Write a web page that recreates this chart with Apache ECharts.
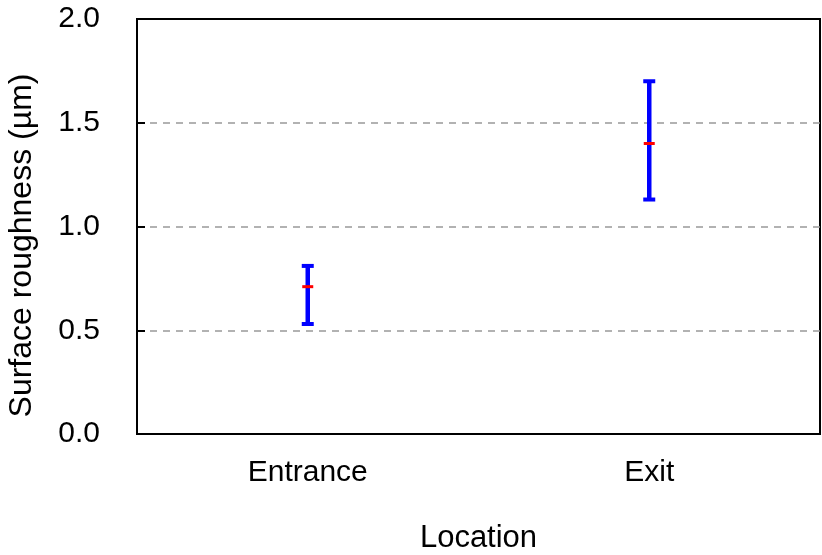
<!DOCTYPE html>
<html>
<head>
<meta charset="utf-8">
<script src="https://cdn.jsdelivr.net/npm/echarts@6/dist/echarts.min.js"></script>
<style>
html, body { margin: 0; padding: 0; background: #fff; }
#chart { width: 822px; height: 555px; }
</style>
</head>
<body>
<div id="chart"></div>
<script>
// locations on the x axis
var locations = ['Entrance', 'Exit'];
// roughness ranges (µm)
var lowValues = [0.53, 1.13];
var highValues = [0.81, 1.70];
var meanValues = [0.71, 1.40];
var yTicks = [0, 0.5, 1.0, 1.5, 2.0];

var errData = [];
for (var i = 0; i < locations.length; i++) {
    errData.push([i, lowValues[i], highValues[i], meanValues[i]]);
}

var font = '"Liberation Sans", Arial, sans-serif';
var myChart = echarts.init(document.getElementById('chart'));

var option = {
    animation: false,
    backgroundColor: '#fff',
    grid: {
        left: 137, right: 2, top: 19, bottom: 121,
        outerBoundsMode: 'none',
        containLabel: false,
        show: true, borderColor: '#000', borderWidth: 2
    },
    xAxis: {
        type: 'category',
        data: locations,
        name: 'Location',
        nameLocation: 'middle',
        nameGap: 89,
        nameTextStyle: { fontFamily: font, fontSize: 31, color: '#000' },
        axisLine: { lineStyle: { color: '#000', width: 2 } },
        axisTick: { inside: true, length: 9, lineStyle: { color: '#000', width: 2 } },
        axisLabel: { fontFamily: font, fontSize: 30, color: '#000', margin: 24 },
        splitLine: { show: false }
    },
    yAxis: {
        type: 'value',
        min: yTicks[0],
        max: yTicks[yTicks.length - 1],
        interval: 0.5,
        name: 'Surface roughness (µm)',
        nameLocation: 'middle',
        nameGap: 99,
        nameTextStyle: { fontFamily: font, fontSize: 32, color: '#000', padding: [0, 38, 0, 0] },
        axisLine: { show: true, lineStyle: { color: '#000', width: 2 } },
        axisTick: { show: true, inside: true, length: 8, lineStyle: { color: '#000', width: 2 } },
        axisLabel: {
            fontFamily: font, fontSize: 30, color: '#000', margin: 37,
            formatter: function (v) { return v.toFixed(1); }
        },
        splitLine: {
            show: true,
            showMinLine: false,
            showMaxLine: false,
            lineStyle: { color: '#999', type: [7, 6], width: 1.5 }
        }
    },
    series: [{
        type: 'custom',
        data: errData,
        encode: { x: 0, y: [1, 2, 3] },
        renderItem: function (params, api) {
            var x = api.value(0);
            var lo = api.coord([x, api.value(1)]);
            var hi = api.coord([x, api.value(2)]);
            var mid = api.coord([x, api.value(3)]);
            var half = 6;
            var blue = { stroke: '#0000ff', lineWidth: 4.5 };
            var cap = { stroke: '#0000ff', lineWidth: 4 };
            return {
                type: 'group',
                children: [
                    { type: 'line', shape: { x1: lo[0], y1: lo[1], x2: hi[0], y2: hi[1] }, style: blue },
                    { type: 'line', shape: { x1: hi[0] - half, y1: hi[1], x2: hi[0] + half, y2: hi[1] }, style: cap },
                    { type: 'line', shape: { x1: lo[0] - half, y1: lo[1], x2: lo[0] + half, y2: lo[1] }, style: cap },
                    { type: 'line', shape: { x1: mid[0] - 5.5, y1: mid[1], x2: mid[0] + 5.5, y2: mid[1] }, style: { stroke: '#ff0000', lineWidth: 3 } }
                ]
            };
        },
        z: 5
    }]
};
myChart.setOption(option);
</script>
</body>
</html>
